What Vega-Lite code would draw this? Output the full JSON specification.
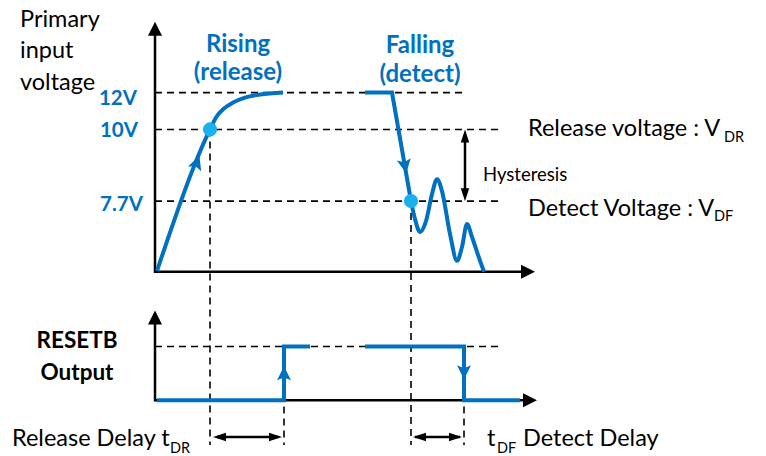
{
 "$schema": "https://vega.github.io/schema/vega-lite/v6.json",
 "width": 766, "height": 456,
 "autosize": {"type": "fit", "contains": "padding"},
 "padding": 0,
 "background": "white",
 "config": {"view": {"stroke": null}, "font": "Lato"},
 "encoding": {
  "x": {"field": "t", "type": "quantitative", "scale": {"domain": [-155, 611], "nice": false, "zero": false}, "axis": null},
  "y": {"field": "v", "type": "quantitative", "scale": {"domain": [-183, 273], "nice": false, "zero": false}, "axis": null}
 },
 "layer": [
  {
   "data": {"values": [
    {"name": "12V", "t": 0, "v": 180, "t2": 308, "v2": 180},
    {"name": "10V", "t": 0, "v": 143, "t2": 345, "v2": 143},
    {"name": "7.7V", "t": 0, "v": 71, "t2": 345, "v2": 71},
    {"name": "high", "t": 0, "v": -75, "t2": 345, "v2": -75},
    {"name": "tRise", "t": 55, "v": 143, "t2": 55, "v2": -174},
    {"name": "tOut1", "t": 129, "v": -75, "t2": 129, "v2": -174},
    {"name": "tFall", "t": 256, "v": 71, "t2": 256, "v2": -174},
    {"name": "tOut2", "t": 309, "v": -75, "t2": 309, "v2": -174}
   ]},
   "mark": {"type": "rule", "color": "black", "strokeWidth": 1.6, "strokeDash": [7, 5]},
   "encoding": {"x2": {"field": "t2"}, "y2": {"field": "v2"}}
  },
  {
   "data": {"values": [
    {"name": "topY", "t": 0, "v": -1, "t2": 0, "v2": 240},
    {"name": "topX", "t": -1, "v": 0, "t2": 372, "v2": 0},
    {"name": "botY", "t": 0, "v": -130, "t2": 0, "v2": -50},
    {"name": "botX", "t": -1, "v": -129, "t2": 374, "v2": -129}
   ]},
   "mark": {"type": "rule", "color": "black", "strokeWidth": 2.5},
   "encoding": {"x2": {"field": "t2"}, "y2": {"field": "v2"}}
  },
  {
   "data": {"values": [
    {"t": 0, "v": 244, "heading": 0},
    {"t": 373, "v": 0, "heading": 90},
    {"t": 0, "v": -46, "heading": 0},
    {"t": 375, "v": -129, "heading": 90}
   ]},
   "mark": {"type": "point", "filled": true, "opacity": 1, "color": "black", "shape": "M0,-1L1,1L-1,1Z", "size": 196, "strokeWidth": 0},
   "encoding": {"angle": {"field": "heading", "type": "quantitative", "scale": null}}
  },
  {
   "data": {"values": [
    {"series": "drop", "i": 0, "t": 210, "v": 180},
    {"series": "drop", "i": 1, "t": 237, "v": 180},
    {"series": "drop", "i": 2, "t": 256, "v": 71},
    {"series": "out1", "i": 0, "t": 2, "v": -129},
    {"series": "out1", "i": 1, "t": 129, "v": -129},
    {"series": "out1", "i": 2, "t": 129, "v": -75},
    {"series": "out1", "i": 3, "t": 155, "v": -75},
    {"series": "out2", "i": 0, "t": 210, "v": -75},
    {"series": "out2", "i": 1, "t": 309, "v": -75},
    {"series": "out2", "i": 2, "t": 309, "v": -129},
    {"series": "out2", "i": 3, "t": 365, "v": -129}
   ]},
   "mark": {"type": "line", "color": "#0070c0", "strokeWidth": 4, "interpolate": "linear", "strokeJoin": "miter"},
   "encoding": {"detail": {"field": "series"}, "order": {"field": "i", "type": "quantitative"}}
  },
  {
   "data": {"values": [
    {"series": "rise", "i": 0, "t": 2, "v": 1},
    {"series": "rise", "i": 1, "t": 55, "v": 143},
    {"series": "rise", "i": 2, "t": 61, "v": 155},
    {"series": "rise", "i": 3, "t": 69, "v": 164},
    {"series": "rise", "i": 4, "t": 78, "v": 170},
    {"series": "rise", "i": 5, "t": 90, "v": 175},
    {"series": "rise", "i": 6, "t": 105, "v": 178},
    {"series": "rise", "i": 7, "t": 128, "v": 180},
    {"series": "ring", "i": 0, "t": 256, "v": 71},
    {"series": "ring", "i": 1, "t": 260, "v": 53},
    {"series": "ring", "i": 2, "t": 265, "v": 40},
    {"series": "ring", "i": 3, "t": 271, "v": 51},
    {"series": "ring", "i": 4, "t": 277, "v": 78},
    {"series": "ring", "i": 5, "t": 282, "v": 93},
    {"series": "ring", "i": 6, "t": 287, "v": 81},
    {"series": "ring", "i": 7, "t": 295, "v": 38},
    {"series": "ring", "i": 8, "t": 302, "v": 11},
    {"series": "ring", "i": 9, "t": 307, "v": 25},
    {"series": "ring", "i": 10, "t": 312, "v": 48},
    {"series": "ring", "i": 11, "t": 317, "v": 35},
    {"series": "ring", "i": 12, "t": 323, "v": 17},
    {"series": "ring", "i": 13, "t": 329, "v": 0}
   ]},
   "mark": {"type": "line", "color": "#0070c0", "strokeWidth": 4, "interpolate": "monotone"},
   "encoding": {"detail": {"field": "series"}, "order": {"field": "i", "type": "quantitative"}}
  },
  {
   "data": {"values": [
    {"t": 42, "v": 110, "heading": 20},
    {"t": 250, "v": 106, "heading": 170},
    {"t": 129, "v": -102, "heading": 0},
    {"t": 309, "v": -101, "heading": 180}
   ]},
   "mark": {"type": "point", "filled": true, "opacity": 1, "color": "#0070c0", "shape": "M0,-1L1,1L0,0.6L-1,1Z", "size": 196, "strokeWidth": 0},
   "encoding": {"angle": {"field": "heading", "type": "quantitative", "scale": null}}
  },
  {
   "data": {"values": [
    {"name": "release", "t": 55, "v": 143},
    {"name": "detect", "t": 256, "v": 71}
   ]},
   "mark": {"type": "circle", "color": "#19b2ea", "opacity": 1, "size": 200}
  },
  {
   "data": {"values": [
    {"name": "hysteresis", "t": 310, "v": 133, "t2": 310, "v2": 81},
    {"name": "tDR", "t": 62, "v": -166, "t2": 123, "v2": -166},
    {"name": "tDF", "t": 260, "v": -166, "t2": 305, "v2": -166}
   ]},
   "mark": {"type": "rule", "color": "black", "strokeWidth": 2.5},
   "encoding": {"x2": {"field": "t2"}, "y2": {"field": "v2"}}
  },
  {
   "data": {"values": [
    {"t": 310, "v": 136.5, "heading": 0},
    {"t": 310, "v": 77.5, "heading": 180},
    {"t": 64.5, "v": -166, "heading": 270},
    {"t": 120.5, "v": -166, "heading": 90},
    {"t": 264.5, "v": -166, "heading": 270},
    {"t": 300.5, "v": -166, "heading": 90}
   ]},
   "mark": {"type": "point", "filled": true, "opacity": 1, "color": "black", "shape": "M0,-1L0.65,1L-0.65,1Z", "size": 169, "strokeWidth": 0},
   "encoding": {"angle": {"field": "heading", "type": "quantitative", "scale": null}}
  },
  {
   "data": {"values": [
    {"label": "Primary", "t": -135, "v": 246},
    {"label": "input", "t": -135, "v": 215},
    {"label": "voltage", "t": -135, "v": 183},
    {"label": "Release voltage : V", "t": 373, "v": 136},
    {"label": "Detect Voltage : V", "t": 373, "v": 56},
    {"label": "Release Delay t", "t": -143, "v": -175},
    {"label": "t", "t": 332, "v": -175},
    {"label": "Detect Delay", "t": 368, "v": -175}
   ]},
   "mark": {"type": "text", "align": "left", "baseline": "alphabetic", "fontSize": 23.5, "color": "black"},
   "encoding": {"text": {"field": "label"}}
  },
  {
   "data": {"values": [
    {"label": "DR", "t": 569, "v": 130},
    {"label": "DF", "t": 559, "v": 51},
    {"label": "DR", "t": 15, "v": -182},
    {"label": "DF", "t": 342, "v": -182}
   ]},
   "mark": {"type": "text", "align": "left", "baseline": "alphabetic", "fontSize": 14.5, "color": "black"},
   "encoding": {"text": {"field": "label"}}
  },
  {
   "data": {"values": [
    {"label": "Hysteresis", "t": 328, "v": 91}
   ]},
   "mark": {"type": "text", "align": "left", "baseline": "alphabetic", "fontSize": 18.5, "color": "black"},
   "encoding": {"text": {"field": "label"}}
  },
  {
   "data": {"values": [
    {"label": "Rising", "t": 83, "v": 221},
    {"label": "(release)", "t": 83, "v": 193},
    {"label": "Falling", "t": 265, "v": 220},
    {"label": "(detect)", "t": 265, "v": 191}
   ]},
   "mark": {"type": "text", "align": "center", "baseline": "alphabetic", "fontSize": 24, "fontWeight": "bold", "color": "#0070c0"},
   "encoding": {"text": {"field": "label"}}
  },
  {
   "data": {"values": [
    {"label": "12V", "t": -18, "v": 168},
    {"label": "10V", "t": -17, "v": 135},
    {"label": "7.7V", "t": -12, "v": 61}
   ]},
   "mark": {"type": "text", "align": "right", "baseline": "alphabetic", "fontSize": 20.5, "fontWeight": "bold", "color": "#0070c0"},
   "encoding": {"text": {"field": "label"}}
  },
  {
   "data": {"values": [
    {"label": "RESETB", "t": -78, "v": -77},
    {"label": "Output", "t": -78, "v": -109}
   ]},
   "mark": {"type": "text", "align": "center", "baseline": "alphabetic", "fontSize": 22.5, "fontWeight": "bold", "color": "black"},
   "encoding": {"text": {"field": "label"}}
  }
 ]
}
